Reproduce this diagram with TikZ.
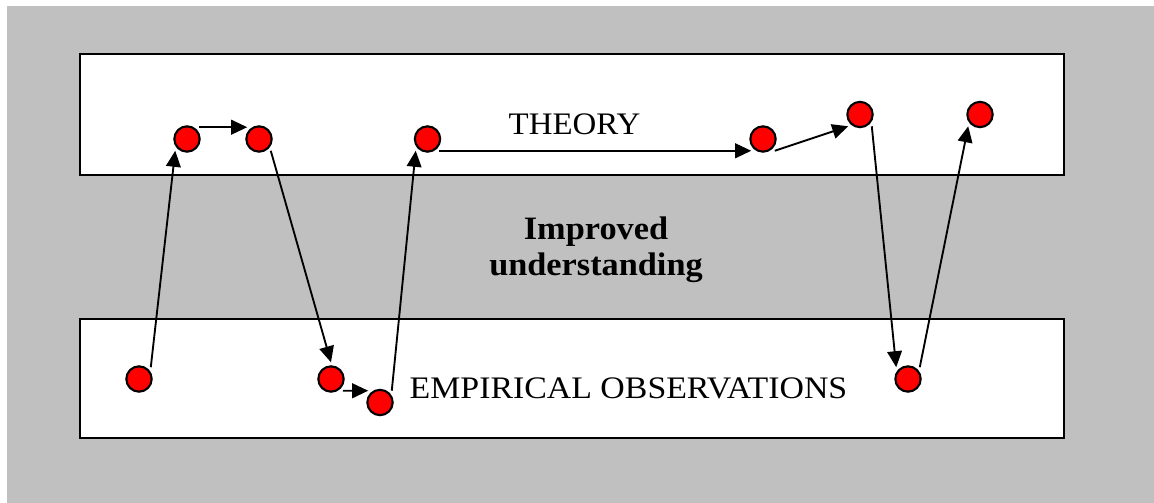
\documentclass[tikz,border=0pt]{standalone}
\usepackage{fontspec}
\setmainfont[FakeStretch=1.05]{Liberation Serif}
\newfontfamily\wideserif[FakeStretch=1.08]{Liberation Serif}
\usetikzlibrary{arrows.meta}
\definecolor{panelgray}{RGB}{192,192,192}

\begin{document}
\begin{tikzpicture}[x=0.75pt,y=-0.75pt,>={Triangle[length=12pt,width=11pt]},
    dot/.style={circle,draw,line width=1.6pt,fill=red,minimum size=19pt,inner sep=0pt,outer sep=3pt},
    band/.style={draw,line width=1.6pt,fill=white},
    flow/.style={->,line width=1.4pt}]
    \useasboundingbox (0,0) rectangle (1154,503);
    \fill[panelgray] (7,6) rectangle (1154,503);
    \draw[band] (80,54) rectangle (1064,175);
    \draw[band] (80,319) rectangle (1064,438);
    \node[inner sep=0pt,anchor=base] (theory) at (574.5,134) {\fontsize{23.5}{27}\selectfont THEORY};
    \node[inner sep=0pt,anchor=base] (empir) at (628.5,398) {\wideserif\fontsize{23.5}{27}\selectfont EMPIRICAL OBSERVATIONS};
    \node[inner sep=0pt,anchor=north,align=center,font=\fontsize{24.5}{27}\selectfont\bfseries] (improved) at (596,216.5) {Improved\\understanding};
    \node[dot] (d1) at (139,379) {};
    \node[dot] (d2) at (187,139) {};
    \node[dot] (d3) at (259,139) {};
    \node[dot] (d4) at (331,379) {};
    \node[dot] (d5) at (380,402.5) {};
    \node[dot] (d6) at (427.5,139) {};
    \node[dot] (d7) at (763,139) {};
    \node[dot] (d8) at (860,114.5) {};
    \node[dot] (d9) at (908,379) {};
    \node[dot] (d10) at (980,114.5) {};
    \draw[flow] (d1.north east)--(d2.south west);
    \draw[flow] (d2.north east)--(d3.north west);
    \draw[flow] (d3.south east)--(d4.north);
    \draw[flow] (d4.south east)--(d5.north west);
    \draw[flow] (d5.north east)--(d6.south west);
    \draw[flow] (d6.south east)--(d7.south west);
    \draw[flow] (d7.south east)--(d8.south west);
    \draw[flow] (d8.south east)--(d9.north west);
    \draw[flow] (d9.north east)--(d10.south west);
  \end{tikzpicture}
\end{document}
